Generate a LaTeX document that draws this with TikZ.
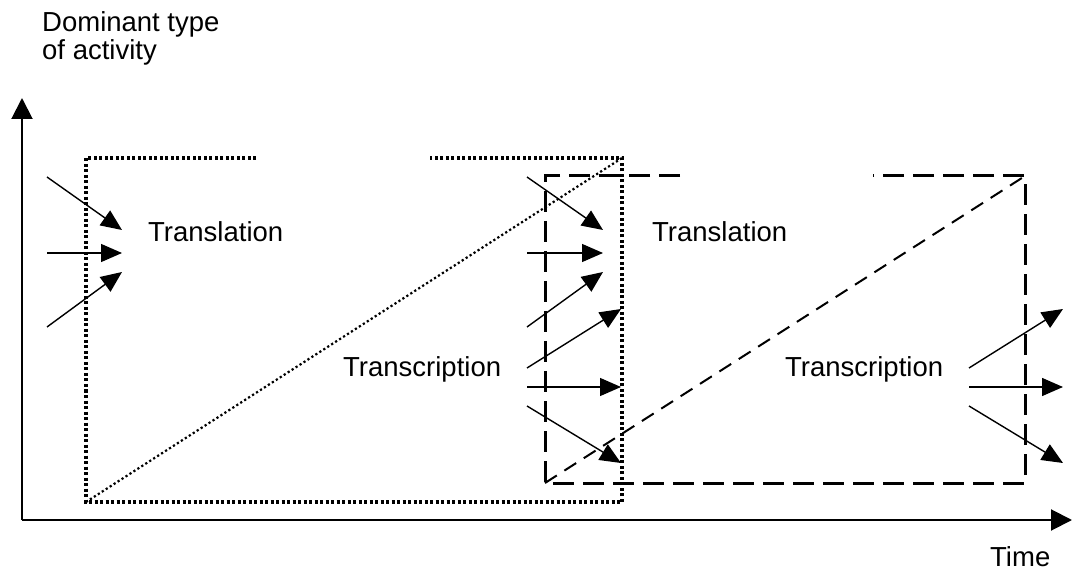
\documentclass[tikz,border=0pt]{standalone}
\usepackage{fontspec}
\setmainfont{Liberation Sans}
\usetikzlibrary{arrows.meta}
\begin{document}
\begin{tikzpicture}[x=1pt,y=-1pt,
  lbl/.style={anchor=base west,inner sep=0pt,font=\fontsize{27.5}{30}\selectfont},
  axis/.style={line width=2pt,-{Triangle[length=21pt,width=21pt]}},
  flow/.style={line width=1.4pt,-{Triangle[length=21pt,width=18pt]}},
  dotbox/.style={line width=3.2pt,dash pattern=on 3pt off 2.5pt},
  dotdiag/.style={line width=2.2pt,dash pattern=on 2.2pt off 2.5pt},
  dashbox/.style={line width=3pt,dash pattern=on 21pt off 9pt},
  dashdiag/.style={line width=2pt,dash pattern=on 14pt off 9pt}]
\useasboundingbox (0,0) rectangle (1072,572);
% texts
\node[lbl] (dom1) at (42,32) {Dominant type};
\node[lbl] (dom2) at (42,60) {of activity};
\node[lbl] (time) at (990,566) {Time};
\node[lbl] (tl1) at (148,242) {Translation};
\node[lbl] (tl2) at (652,242) {Translation};
\node[lbl] (tc1) at (343,377) {Transcription};
\node[lbl] (tc2) at (785,377) {Transcription};
% axes
\coordinate (o) at (22,520);
\coordinate (ytip) at (22,98);
\coordinate (xtip) at (1072,520);
\draw[axis] (o) -- (ytip);
\draw[axis] (o) -- (xtip);
% dotted box
\coordinate (d1) at (86,502);
\coordinate (d2) at (622,158);
\draw[dotbox] (256,158) -- (86,158) -- (d1) -- (622,502) -- (d2) -- (430,158);
\draw[dotdiag] (d1) -- (d2);
% dashed box
\coordinate (e1) at (545,483);
\coordinate (e2) at (1025,176);
\draw[dashbox] (680,176) -- (545,176) -- (e1) -- (1025,483) -- (e2) -- (873,176);
\draw[dashdiag] (e1) -- (e2);
% arrows into first translation
\draw[flow] (47,177) -- (122,230);
\draw[flow] (47,253) -- (122,253);
\draw[flow] (47,327) -- (122,272);
% arrows into second translation
\draw[flow] (527,177) -- (603,230);
\draw[flow] (527,253) -- (603,253);
\draw[flow] (527,327) -- (603,272);
% arrows out of first transcription
\draw[flow] (527,368) -- (621,309);
\draw[flow] (527,387) -- (621,387);
\draw[flow] (527,406) -- (621,463);
% arrows out of second transcription
\draw[flow] (969,368) -- (1063,309);
\draw[flow] (969,387) -- (1063,387);
\draw[flow] (969,406) -- (1063,463);
\end{tikzpicture}
\end{document}
